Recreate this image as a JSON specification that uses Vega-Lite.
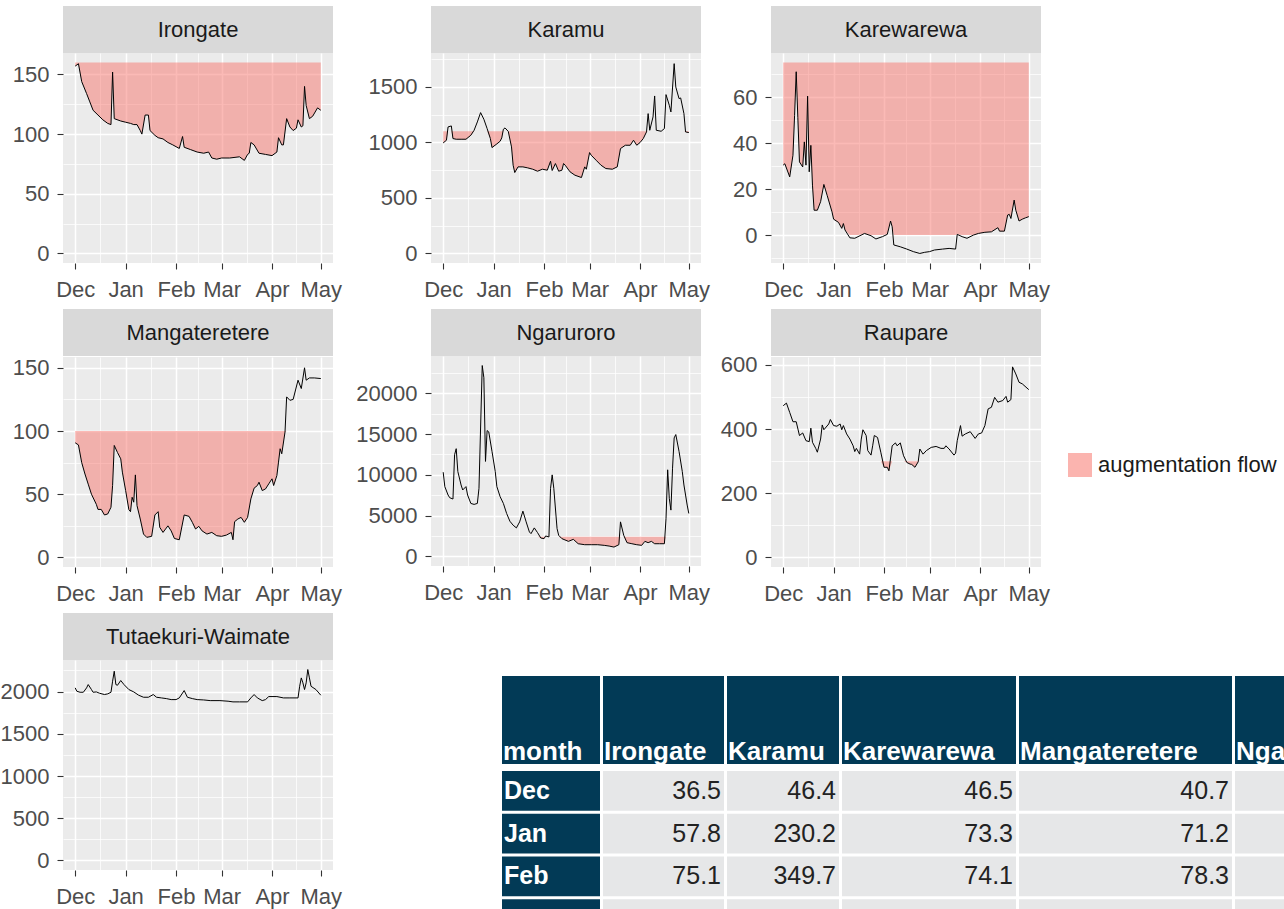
{
"$schema":"https://vega.github.io/schema/vega-lite/v6.json",
"background":"white",
"padding":{"left":0,"top":6,"right":0,"bottom":0},
"config":{
 "view":{"stroke":null,"fill":"#EBEBEB"},
 "font":"Liberation Sans",
 "text":{"font":"Liberation Sans"},
 "axis":{"domain":false,"grid":true,"gridColor":"#FFFFFF","tickColor":"#333333","tickSize":6,"tickWidth":1.1,"labelFontSize":22,"labelColor":"#4D4D4D","labelFont":"Liberation Sans","labelOverlap":false,"title":null},
 "axisX":{"labelPadding":10,"labelFlush":false},
 "axisY":{"labelPadding":8}
},
"datasets":{
 "Irongate":[{"date":"2012-12-01","flow":157},{"date":"2012-12-03","flow":159},{"date":"2012-12-05","flow":144},{"date":"2012-12-08","flow":134},{"date":"2012-12-10","flow":127},{"date":"2012-12-12","flow":120},{"date":"2012-12-15","flow":116},{"date":"2012-12-18","flow":112},{"date":"2012-12-21","flow":109},{"date":"2012-12-23","flow":108},{"date":"2012-12-24","flow":152},{"date":"2012-12-25","flow":113},{"date":"2012-12-29","flow":111},{"date":"2013-01-01","flow":110},{"date":"2013-01-04","flow":109},{"date":"2013-01-06","flow":108},{"date":"2013-01-08","flow":108},{"date":"2013-01-10","flow":103},{"date":"2013-01-11","flow":100},{"date":"2013-01-13","flow":116},{"date":"2013-01-15","flow":116},{"date":"2013-01-16","flow":103},{"date":"2013-01-19","flow":99},{"date":"2013-01-21","flow":97},{"date":"2013-01-24","flow":96},{"date":"2013-01-27","flow":93},{"date":"2013-01-30","flow":91},{"date":"2013-02-03","flow":88},{"date":"2013-02-05","flow":98},{"date":"2013-02-06","flow":89},{"date":"2013-02-10","flow":87},{"date":"2013-02-14","flow":85},{"date":"2013-02-18","flow":84},{"date":"2013-02-21","flow":85},{"date":"2013-02-23","flow":80},{"date":"2013-02-26","flow":79},{"date":"2013-03-01","flow":80},{"date":"2013-03-06","flow":80},{"date":"2013-03-12","flow":81},{"date":"2013-03-15","flow":78},{"date":"2013-03-17","flow":83},{"date":"2013-03-18","flow":84},{"date":"2013-03-19","flow":93},{"date":"2013-03-21","flow":91},{"date":"2013-03-24","flow":84},{"date":"2013-03-28","flow":83},{"date":"2013-04-01","flow":82},{"date":"2013-04-04","flow":85},{"date":"2013-04-05","flow":97},{"date":"2013-04-07","flow":91},{"date":"2013-04-08","flow":91},{"date":"2013-04-10","flow":113},{"date":"2013-04-12","flow":106},{"date":"2013-04-14","flow":103},{"date":"2013-04-16","flow":105},{"date":"2013-04-17","flow":112},{"date":"2013-04-19","flow":106},{"date":"2013-04-20","flow":107},{"date":"2013-04-21","flow":140},{"date":"2013-04-22","flow":124},{"date":"2013-04-24","flow":113},{"date":"2013-04-26","flow":115},{"date":"2013-04-29","flow":122},{"date":"2013-05-01","flow":120}],
 "Karamu":[{"date":"2012-12-01","flow":996,"low":996},{"date":"2012-12-03","flow":1020,"low":1020},{"date":"2012-12-04","flow":1140,"low":1100},{"date":"2012-12-06","flow":1149,"low":1100},{"date":"2012-12-07","flow":1035,"low":1035},{"date":"2012-12-09","flow":1029,"low":1029},{"date":"2012-12-12","flow":1029,"low":1029},{"date":"2012-12-15","flow":1029,"low":1029},{"date":"2012-12-18","flow":1065,"low":1065},{"date":"2012-12-20","flow":1110,"low":1100},{"date":"2012-12-22","flow":1185,"low":1100},{"date":"2012-12-24","flow":1269,"low":1100},{"date":"2012-12-26","flow":1209,"low":1100},{"date":"2012-12-28","flow":1125,"low":1100},{"date":"2012-12-30","flow":1035,"low":1035},{"date":"2012-12-31","flow":954,"low":954},{"date":"2013-01-03","flow":987,"low":987},{"date":"2013-01-05","flow":1011,"low":1011},{"date":"2013-01-06","flow":1041,"low":1041},{"date":"2013-01-07","flow":1119,"low":1100},{"date":"2013-01-08","flow":1131,"low":1100},{"date":"2013-01-10","flow":1100,"low":1100},{"date":"2013-01-12","flow":960,"low":960},{"date":"2013-01-13","flow":795,"low":795},{"date":"2013-01-14","flow":729,"low":729},{"date":"2013-01-16","flow":780,"low":780},{"date":"2013-01-19","flow":780,"low":780},{"date":"2013-01-22","flow":771,"low":771},{"date":"2013-01-25","flow":759,"low":759},{"date":"2013-01-28","flow":741,"low":741},{"date":"2013-01-31","flow":759,"low":759},{"date":"2013-02-03","flow":750,"low":750},{"date":"2013-02-05","flow":831,"low":831},{"date":"2013-02-06","flow":747,"low":747},{"date":"2013-02-08","flow":810,"low":810},{"date":"2013-02-10","flow":741,"low":741},{"date":"2013-02-12","flow":750,"low":750},{"date":"2013-02-13","flow":810,"low":810},{"date":"2013-02-14","flow":795,"low":795},{"date":"2013-02-17","flow":735,"low":735},{"date":"2013-02-20","flow":705,"low":705},{"date":"2013-02-24","flow":684,"low":684},{"date":"2013-02-26","flow":780,"low":780},{"date":"2013-02-27","flow":759,"low":759},{"date":"2013-03-01","flow":909,"low":909},{"date":"2013-03-02","flow":885,"low":885},{"date":"2013-03-05","flow":840,"low":840},{"date":"2013-03-08","flow":795,"low":795},{"date":"2013-03-11","flow":765,"low":765},{"date":"2013-03-15","flow":759,"low":759},{"date":"2013-03-18","flow":780,"low":780},{"date":"2013-03-20","flow":945,"low":945},{"date":"2013-03-23","flow":975,"low":975},{"date":"2013-03-26","flow":975,"low":975},{"date":"2013-03-28","flow":1020,"low":1020},{"date":"2013-03-30","flow":975,"low":975},{"date":"2013-04-01","flow":999,"low":999},{"date":"2013-04-03","flow":1035,"low":1035},{"date":"2013-04-05","flow":1095,"low":1095},{"date":"2013-04-06","flow":1260,"low":1100},{"date":"2013-04-07","flow":1110,"low":1100},{"date":"2013-04-09","flow":1230,"low":1100},{"date":"2013-04-10","flow":1419,"low":1100},{"date":"2013-04-11","flow":1110,"low":1100},{"date":"2013-04-14","flow":1101,"low":1100},{"date":"2013-04-16","flow":1125,"low":1100},{"date":"2013-04-17","flow":1431,"low":1100},{"date":"2013-04-19","flow":1335,"low":1100},{"date":"2013-04-20","flow":1275,"low":1100},{"date":"2013-04-22","flow":1710,"low":1100},{"date":"2013-04-23","flow":1500,"low":1100},{"date":"2013-04-25","flow":1395,"low":1100},{"date":"2013-04-26","flow":1401,"low":1100},{"date":"2013-04-28","flow":1260,"low":1100},{"date":"2013-04-29","flow":1095,"low":1095},{"date":"2013-05-01","flow":1089,"low":1089}],
 "Karewarewa":[{"date":"2012-12-01","flow":30.4,"low":30.4},{"date":"2012-12-02","flow":31,"low":31},{"date":"2012-12-05","flow":25.3,"low":25.3},{"date":"2012-12-07","flow":34.7,"low":34.7},{"date":"2012-12-08","flow":52,"low":52},{"date":"2012-12-09","flow":71,"low":71},{"date":"2012-12-10","flow":51,"low":51},{"date":"2012-12-11","flow":31.8,"low":31.8},{"date":"2012-12-13","flow":29.6,"low":29.6},{"date":"2012-12-14","flow":40.5,"low":40.5},{"date":"2012-12-15","flow":30.4,"low":30.4},{"date":"2012-12-16","flow":60.4,"low":60.4},{"date":"2012-12-17","flow":27.5,"low":27.5},{"date":"2012-12-18","flow":39,"low":39},{"date":"2012-12-19","flow":21.7,"low":21.7},{"date":"2012-12-20","flow":10.8,"low":10.8},{"date":"2012-12-22","flow":10.8,"low":10.8},{"date":"2012-12-24","flow":14.5,"low":14.5},{"date":"2012-12-26","flow":22,"low":22},{"date":"2012-12-28","flow":17.3,"low":17.3},{"date":"2012-12-31","flow":10.1,"low":10.1},{"date":"2013-01-01","flow":6.9,"low":6.9},{"date":"2013-01-04","flow":5.5,"low":5.5},{"date":"2013-01-06","flow":2.9,"low":2.9},{"date":"2013-01-07","flow":5,"low":5},{"date":"2013-01-08","flow":2.2,"low":2.2},{"date":"2013-01-11","flow":-1.2,"low":0},{"date":"2013-01-14","flow":-1.4,"low":0},{"date":"2013-01-16","flow":-0.7,"low":0},{"date":"2013-01-20","flow":0.7,"low":0.7},{"date":"2013-01-24","flow":-0.3,"low":0},{"date":"2013-01-27","flow":-1.7,"low":0},{"date":"2013-01-31","flow":-0.7,"low":0},{"date":"2013-02-03","flow":0.3,"low":0.3},{"date":"2013-02-05","flow":6.1,"low":6.1},{"date":"2013-02-06","flow":3.6,"low":3.6},{"date":"2013-02-07","flow":-4.3,"low":0},{"date":"2013-02-11","flow":-5.1,"low":0},{"date":"2013-02-15","flow":-6.1,"low":0},{"date":"2013-02-19","flow":-7.2,"low":0},{"date":"2013-02-23","flow":-8,"low":0},{"date":"2013-02-26","flow":-7.5,"low":0},{"date":"2013-03-01","flow":-7.2,"low":0},{"date":"2013-03-04","flow":-6.5,"low":0},{"date":"2013-03-09","flow":-6.1,"low":0},{"date":"2013-03-13","flow":-5.8,"low":0},{"date":"2013-03-17","flow":-6.1,"low":0},{"date":"2013-03-18","flow":0.3,"low":0.3},{"date":"2013-03-21","flow":-0.7,"low":0},{"date":"2013-03-24","flow":-1.4,"low":0},{"date":"2013-03-28","flow":0,"low":0},{"date":"2013-03-31","flow":0.7,"low":0.7},{"date":"2013-04-04","flow":1.2,"low":1.2},{"date":"2013-04-08","flow":1.4,"low":1.4},{"date":"2013-04-12","flow":3.2,"low":3.2},{"date":"2013-04-13","flow":1.7,"low":1.7},{"date":"2013-04-16","flow":1.7,"low":1.7},{"date":"2013-04-18","flow":8.7,"low":8.7},{"date":"2013-04-19","flow":9,"low":9},{"date":"2013-04-20","flow":7.2,"low":7.2},{"date":"2013-04-22","flow":15.2,"low":15.2},{"date":"2013-04-23","flow":10.8,"low":10.8},{"date":"2013-04-25","flow":6.1,"low":6.1},{"date":"2013-04-27","flow":6.9,"low":6.9},{"date":"2013-04-29","flow":7.5,"low":7.5},{"date":"2013-05-01","flow":8,"low":8}],
 "Mangateretere":[{"date":"2012-12-01","flow":90.7,"low":90.7},{"date":"2012-12-03","flow":89,"low":89},{"date":"2012-12-05","flow":75,"low":75},{"date":"2012-12-07","flow":66,"low":66},{"date":"2012-12-09","flow":58,"low":58},{"date":"2012-12-11","flow":50,"low":50},{"date":"2012-12-14","flow":42,"low":42},{"date":"2012-12-15","flow":38,"low":38},{"date":"2012-12-17","flow":38,"low":38},{"date":"2012-12-19","flow":33.6,"low":33.6},{"date":"2012-12-21","flow":34.4,"low":34.4},{"date":"2012-12-23","flow":39.7,"low":39.7},{"date":"2012-12-24","flow":57,"low":57},{"date":"2012-12-25","flow":88.6,"low":88.6},{"date":"2012-12-27","flow":83,"low":83},{"date":"2012-12-29","flow":78,"low":78},{"date":"2012-12-30","flow":67.5,"low":67.5},{"date":"2013-01-01","flow":53,"low":53},{"date":"2013-01-03","flow":37.8,"low":37.8},{"date":"2013-01-04","flow":36.2,"low":36.2},{"date":"2013-01-05","flow":47.6,"low":47.6},{"date":"2013-01-06","flow":43.7,"low":43.7},{"date":"2013-01-07","flow":65.3,"low":65.3},{"date":"2013-01-08","flow":41,"low":41},{"date":"2013-01-10","flow":30.4,"low":30.4},{"date":"2013-01-12","flow":18.5,"low":18.5},{"date":"2013-01-14","flow":15.9,"low":15.9},{"date":"2013-01-17","flow":16.7,"low":16.7},{"date":"2013-01-19","flow":33.6,"low":33.6},{"date":"2013-01-21","flow":36.2,"low":36.2},{"date":"2013-01-22","flow":23.8,"low":23.8},{"date":"2013-01-24","flow":19.8,"low":19.8},{"date":"2013-01-27","flow":25,"low":25},{"date":"2013-01-29","flow":21,"low":21},{"date":"2013-01-31","flow":15,"low":15},{"date":"2013-02-03","flow":14,"low":14},{"date":"2013-02-06","flow":33.6,"low":33.6},{"date":"2013-02-09","flow":32.5,"low":32.5},{"date":"2013-02-11","flow":27.8,"low":27.8},{"date":"2013-02-13","flow":22.5,"low":22.5},{"date":"2013-02-15","flow":24.6,"low":24.6},{"date":"2013-02-17","flow":21,"low":21},{"date":"2013-02-20","flow":18.5,"low":18.5},{"date":"2013-02-23","flow":19.8,"low":19.8},{"date":"2013-02-26","flow":17.2,"low":17.2},{"date":"2013-03-01","flow":16.7,"low":16.7},{"date":"2013-03-04","flow":17.7,"low":17.7},{"date":"2013-03-07","flow":19.8,"low":19.8},{"date":"2013-03-08","flow":14,"low":14},{"date":"2013-03-09","flow":28.3,"low":28.3},{"date":"2013-03-11","flow":30.4,"low":30.4},{"date":"2013-03-13","flow":31.7,"low":31.7},{"date":"2013-03-15","flow":27.8,"low":27.8},{"date":"2013-03-17","flow":31.7,"low":31.7},{"date":"2013-03-19","flow":46.3,"low":46.3},{"date":"2013-03-21","flow":54.8,"low":54.8},{"date":"2013-03-23","flow":56.9,"low":56.9},{"date":"2013-03-24","flow":59.5,"low":59.5},{"date":"2013-03-26","flow":52.9,"low":52.9},{"date":"2013-03-28","flow":54.2,"low":54.2},{"date":"2013-03-30","flow":58.2,"low":58.2},{"date":"2013-04-01","flow":62.2,"low":62.2},{"date":"2013-04-02","flow":56.9,"low":56.9},{"date":"2013-04-04","flow":64.8,"low":64.8},{"date":"2013-04-05","flow":75.4,"low":75.4},{"date":"2013-04-06","flow":86,"low":86},{"date":"2013-04-07","flow":82,"low":82},{"date":"2013-04-09","flow":99.2,"low":99.2},{"date":"2013-04-10","flow":127,"low":100},{"date":"2013-04-12","flow":124.3,"low":100},{"date":"2013-04-14","flow":125,"low":100},{"date":"2013-04-17","flow":140.2,"low":100},{"date":"2013-04-19","flow":133.6,"low":100},{"date":"2013-04-21","flow":150,"low":100},{"date":"2013-04-22","flow":140.2,"low":100},{"date":"2013-04-24","flow":142,"low":100},{"date":"2013-04-27","flow":142,"low":100},{"date":"2013-05-01","flow":141.5,"low":100}],
 "Ngaruroro":[{"date":"2012-12-01","flow":10330,"low":2400},{"date":"2012-12-02","flow":8560,"low":2400},{"date":"2012-12-04","flow":7530,"low":2400},{"date":"2012-12-05","flow":7200,"low":2400},{"date":"2012-12-07","flow":7040,"low":2400},{"date":"2012-12-08","flow":12470,"low":2400},{"date":"2012-12-09","flow":13210,"low":2400},{"date":"2012-12-10","flow":10410,"low":2400},{"date":"2012-12-12","flow":8760,"low":2400},{"date":"2012-12-13","flow":8150,"low":2400},{"date":"2012-12-15","flow":8560,"low":2400},{"date":"2012-12-16","flow":7530,"low":2400},{"date":"2012-12-18","flow":6500,"low":2400},{"date":"2012-12-20","flow":6380,"low":2400},{"date":"2012-12-22","flow":6500,"low":2400},{"date":"2012-12-23","flow":8350,"low":2400},{"date":"2012-12-25","flow":23400,"low":2400},{"date":"2012-12-26","flow":21900,"low":2400},{"date":"2012-12-27","flow":11650,"low":2400},{"date":"2012-12-28","flow":15430,"low":2400},{"date":"2012-12-29","flow":15270,"low":2400},{"date":"2012-12-31","flow":12880,"low":2400},{"date":"2013-01-02","flow":10410,"low":2400},{"date":"2013-01-03","flow":8560,"low":2400},{"date":"2013-01-05","flow":7325,"low":2400},{"date":"2013-01-07","flow":6500,"low":2400},{"date":"2013-01-09","flow":5270,"low":2400},{"date":"2013-01-11","flow":4320,"low":2400},{"date":"2013-01-13","flow":3830,"low":2400},{"date":"2013-01-15","flow":3500,"low":2400},{"date":"2013-01-17","flow":4240,"low":2400},{"date":"2013-01-19","flow":5555,"low":2400},{"date":"2013-01-21","flow":4240,"low":2400},{"date":"2013-01-23","flow":3000,"low":2400},{"date":"2013-01-24","flow":2800,"low":2400},{"date":"2013-01-26","flow":3500,"low":2400},{"date":"2013-01-28","flow":2920,"low":2400},{"date":"2013-01-30","flow":2260,"low":2260},{"date":"2013-02-01","flow":2180,"low":2180},{"date":"2013-02-02","flow":2510,"low":2400},{"date":"2013-02-04","flow":2390,"low":2390},{"date":"2013-02-05","flow":8350,"low":2400},{"date":"2013-02-06","flow":10000,"low":2400},{"date":"2013-02-07","flow":8350,"low":2400},{"date":"2013-02-09","flow":3420,"low":2400},{"date":"2013-02-10","flow":2590,"low":2400},{"date":"2013-02-12","flow":2180,"low":2180},{"date":"2013-02-16","flow":1850,"low":1850},{"date":"2013-02-19","flow":2100,"low":2100},{"date":"2013-02-22","flow":1560,"low":1560},{"date":"2013-02-26","flow":1440,"low":1440},{"date":"2013-03-02","flow":1440,"low":1440},{"date":"2013-03-06","flow":1440,"low":1440},{"date":"2013-03-10","flow":1360,"low":1360},{"date":"2013-03-13","flow":1275,"low":1275},{"date":"2013-03-16","flow":1150,"low":1150},{"date":"2013-03-19","flow":1440,"low":1440},{"date":"2013-03-20","flow":4240,"low":2400},{"date":"2013-03-22","flow":2590,"low":2400},{"date":"2013-03-24","flow":1690,"low":1690},{"date":"2013-03-27","flow":1560,"low":1560},{"date":"2013-03-30","flow":1440,"low":1440},{"date":"2013-04-02","flow":1360,"low":1360},{"date":"2013-04-04","flow":1850,"low":1850},{"date":"2013-04-06","flow":1690,"low":1690},{"date":"2013-04-08","flow":1850,"low":1850},{"date":"2013-04-10","flow":1560,"low":1560},{"date":"2013-04-13","flow":1560,"low":1560},{"date":"2013-04-16","flow":1560,"low":1560},{"date":"2013-04-17","flow":4650,"low":2400},{"date":"2013-04-18","flow":10620,"low":2400},{"date":"2013-04-19","flow":7120,"low":2400},{"date":"2013-04-20","flow":5680,"low":2400},{"date":"2013-04-21","flow":10820,"low":2400},{"date":"2013-04-22","flow":14530,"low":2400},{"date":"2013-04-23","flow":14940,"low":2400},{"date":"2013-04-25","flow":12880,"low":2400},{"date":"2013-04-27","flow":10410,"low":2400},{"date":"2013-04-28","flow":8760,"low":2400},{"date":"2013-04-30","flow":6300,"low":2400},{"date":"2013-05-01","flow":5270,"low":2400}],
 "Raupare":[{"date":"2012-12-01","flow":473,"low":300},{"date":"2012-12-03","flow":481,"low":300},{"date":"2012-12-05","flow":452,"low":300},{"date":"2012-12-07","flow":423,"low":300},{"date":"2012-12-09","flow":423,"low":300},{"date":"2012-12-11","flow":380,"low":300},{"date":"2012-12-13","flow":388,"low":300},{"date":"2012-12-15","flow":364,"low":300},{"date":"2012-12-17","flow":361,"low":300},{"date":"2012-12-18","flow":403,"low":300},{"date":"2012-12-19","flow":359,"low":300},{"date":"2012-12-21","flow":340,"low":300},{"date":"2012-12-22","flow":328,"low":300},{"date":"2012-12-24","flow":369,"low":300},{"date":"2012-12-25","flow":413,"low":300},{"date":"2012-12-26","flow":398,"low":300},{"date":"2012-12-29","flow":416,"low":300},{"date":"2012-12-30","flow":430,"low":300},{"date":"2013-01-01","flow":411,"low":300},{"date":"2013-01-03","flow":409,"low":300},{"date":"2013-01-05","flow":416,"low":300},{"date":"2013-01-06","flow":398,"low":300},{"date":"2013-01-07","flow":411,"low":300},{"date":"2013-01-09","flow":385,"low":300},{"date":"2013-01-11","flow":369,"low":300},{"date":"2013-01-13","flow":348,"low":300},{"date":"2013-01-14","flow":330,"low":300},{"date":"2013-01-15","flow":340,"low":300},{"date":"2013-01-17","flow":322,"low":300},{"date":"2013-01-18","flow":369,"low":300},{"date":"2013-01-19","flow":398,"low":300},{"date":"2013-01-21","flow":380,"low":300},{"date":"2013-01-22","flow":333,"low":300},{"date":"2013-01-24","flow":319,"low":300},{"date":"2013-01-25","flow":348,"low":300},{"date":"2013-01-26","flow":380,"low":300},{"date":"2013-01-28","flow":374,"low":300},{"date":"2013-01-30","flow":328,"low":300},{"date":"2013-02-01","flow":281,"low":281},{"date":"2013-02-03","flow":281,"low":281},{"date":"2013-02-04","flow":270,"low":270},{"date":"2013-02-06","flow":348,"low":300},{"date":"2013-02-08","flow":357,"low":300},{"date":"2013-02-09","flow":348,"low":300},{"date":"2013-02-11","flow":357,"low":300},{"date":"2013-02-13","flow":317,"low":300},{"date":"2013-02-15","flow":296,"low":296},{"date":"2013-02-17","flow":291,"low":291},{"date":"2013-02-18","flow":290,"low":290},{"date":"2013-02-20","flow":281,"low":281},{"date":"2013-02-22","flow":298,"low":298},{"date":"2013-02-23","flow":338,"low":300},{"date":"2013-02-25","flow":322,"low":300},{"date":"2013-02-27","flow":333,"low":300},{"date":"2013-03-02","flow":343,"low":300},{"date":"2013-03-05","flow":346,"low":300},{"date":"2013-03-08","flow":340,"low":300},{"date":"2013-03-10","flow":340,"low":300},{"date":"2013-03-11","flow":348,"low":300},{"date":"2013-03-13","flow":338,"low":300},{"date":"2013-03-16","flow":319,"low":300},{"date":"2013-03-17","flow":325,"low":300},{"date":"2013-03-18","flow":364,"low":300},{"date":"2013-03-20","flow":411,"low":300},{"date":"2013-03-21","flow":378,"low":300},{"date":"2013-03-23","flow":385,"low":300},{"date":"2013-03-26","flow":392,"low":300},{"date":"2013-03-29","flow":371,"low":300},{"date":"2013-03-31","flow":385,"low":300},{"date":"2013-04-02","flow":388,"low":300},{"date":"2013-04-04","flow":411,"low":300},{"date":"2013-04-06","flow":463,"low":300},{"date":"2013-04-08","flow":468,"low":300},{"date":"2013-04-10","flow":499,"low":300},{"date":"2013-04-12","flow":484,"low":300},{"date":"2013-04-15","flow":489,"low":300},{"date":"2013-04-17","flow":502,"low":300},{"date":"2013-04-18","flow":484,"low":300},{"date":"2013-04-20","flow":492,"low":300},{"date":"2013-04-21","flow":594,"low":300},{"date":"2013-04-23","flow":572,"low":300},{"date":"2013-04-25","flow":546,"low":300},{"date":"2013-04-27","flow":541,"low":300},{"date":"2013-05-01","flow":523,"low":300}],
 "Tutaekuri":[{"date":"2012-12-01","flow":2044},{"date":"2012-12-02","flow":2004},{"date":"2012-12-04","flow":1992},{"date":"2012-12-06","flow":1992},{"date":"2012-12-08","flow":2044},{"date":"2012-12-09","flow":2083},{"date":"2012-12-11","flow":2024},{"date":"2012-12-12","flow":1992},{"date":"2012-12-14","flow":1996},{"date":"2012-12-16","flow":1980},{"date":"2012-12-19","flow":1965},{"date":"2012-12-21","flow":1973},{"date":"2012-12-23","flow":1992},{"date":"2012-12-24","flow":2123},{"date":"2012-12-25","flow":2241},{"date":"2012-12-26","flow":2083},{"date":"2012-12-27","flow":2075},{"date":"2012-12-29","flow":2131},{"date":"2012-12-31","flow":2083},{"date":"2013-01-03","flow":2024},{"date":"2013-01-06","flow":1996},{"date":"2013-01-09","flow":1957},{"date":"2013-01-12","flow":1933},{"date":"2013-01-15","flow":1933},{"date":"2013-01-18","flow":1965},{"date":"2013-01-20","flow":1933},{"date":"2013-01-23","flow":1925},{"date":"2013-01-26","flow":1917},{"date":"2013-01-29","flow":1905},{"date":"2013-02-01","flow":1905},{"date":"2013-02-03","flow":1925},{"date":"2013-02-06","flow":2012},{"date":"2013-02-08","flow":1933},{"date":"2013-02-11","flow":1917},{"date":"2013-02-14","flow":1905},{"date":"2013-02-18","flow":1901},{"date":"2013-02-22","flow":1893},{"date":"2013-02-28","flow":1893},{"date":"2013-03-05","flow":1886},{"date":"2013-03-08","flow":1878},{"date":"2013-03-12","flow":1878},{"date":"2013-03-17","flow":1878},{"date":"2013-03-19","flow":1925},{"date":"2013-03-21","flow":1965},{"date":"2013-03-23","flow":1925},{"date":"2013-03-26","flow":1893},{"date":"2013-03-28","flow":1905},{"date":"2013-03-30","flow":1941},{"date":"2013-04-04","flow":1941},{"date":"2013-04-08","flow":1925},{"date":"2013-04-12","flow":1925},{"date":"2013-04-17","flow":1925},{"date":"2013-04-18","flow":2063},{"date":"2013-04-19","flow":2162},{"date":"2013-04-20","flow":2103},{"date":"2013-04-21","flow":2024},{"date":"2013-04-22","flow":2103},{"date":"2013-04-23","flow":2261},{"date":"2013-04-24","flow":2162},{"date":"2013-04-25","flow":2063},{"date":"2013-04-28","flow":2024},{"date":"2013-05-01","flow":1957}],
 "table":[{"month":"Dec","Irongate":36.5,"Karamu":46.4,"Karewarewa":46.5,"Mangateretere":40.7},{"month":"Jan","Irongate":57.8,"Karamu":230.2,"Karewarewa":73.3,"Mangateretere":71.2},{"month":"Feb","Irongate":75.1,"Karamu":349.7,"Karewarewa":74.1,"Mangateretere":78.3},{"month":"Mar"}]
},
"spacing":9,
"resolve":{"scale":{"color":"independent"},"legend":{"color":"independent"}},
"vconcat":[
{"hconcat":[
 {"vconcat":[
  {"width":270,"height":47,"view":{"fill":"#D9D9D9","stroke":null},"data":{"values":[{"site":"Irongate"}]},"mark":{"type":"text","fontSize":22,"color":"#1A1A1A","baseline":"middle"},"encoding":{"text":{"field":"site"},"y":{"datum":0.5,"type":"quantitative","scale":{"domain":[0,1]},"axis":{"labels":false,"ticks":false,"domain":false,"grid":false,"minExtent":63}}}},
  {"width":270,"height":210,"data":{"name":"Irongate"},"layer":[
   {"mark":{"type":"area","color":"#F8766D","opacity":0.5},"encoding":{"x":{"field":"date","type":"temporal","title":null,"scale":{"type":"utc","domain":[{"year":2012,"month":11,"date":23,"hours":12,"utc":true},{"year":2013,"month":5,"date":8,"hours":12,"utc":true}]},"axis":{"values":[{"year":2012,"month":12,"date":1,"utc":true},{"year":2012,"month":12,"date":16,"hours":12,"utc":true},{"year":2013,"month":1,"date":1,"utc":true},{"year":2013,"month":1,"date":16,"hours":12,"utc":true},{"year":2013,"month":2,"date":1,"utc":true},{"year":2013,"month":2,"date":14,"hours":12,"utc":true},{"year":2013,"month":3,"date":1,"utc":true},{"year":2013,"month":3,"date":16,"hours":12,"utc":true},{"year":2013,"month":4,"date":1,"utc":true},{"year":2013,"month":4,"date":16,"utc":true},{"year":2013,"month":5,"date":1,"utc":true}],"labelExpr":"utcdate(datum.value) == 1 ? utcFormat(datum.value, '%b') : ''","gridWidth":{"condition":{"test":"utcdate(datum.value) == 1","value":1.5},"value":0.75},"tickOpacity":{"condition":{"test":"utcdate(datum.value) == 1","value":1},"value":0}}},"y":{"field":"flow","type":"quantitative","title":null,"scale":{"domain":[-8,168],"nice":false,"zero":false},"axis":{"values":[0,25,50,75,100,125,150],"format":"d","labelExpr":"datum.value % 50 == 0 ? datum.label : ''","labelFontSize":{"condition":{"test":"datum.value % 50 == 0","value":22},"value":0},"gridWidth":{"condition":{"test":"datum.value % 50 == 0","value":1.5},"value":0.75},"tickOpacity":{"condition":{"test":"datum.value % 50 == 0","value":1},"value":0},"minExtent":63}},"y2":{"datum":160}}},
   {"mark":{"type":"line","color":"black","strokeWidth":1},"encoding":{"x":{"field":"date","type":"temporal","title":null,"scale":{"type":"utc","domain":[{"year":2012,"month":11,"date":23,"hours":12,"utc":true},{"year":2013,"month":5,"date":8,"hours":12,"utc":true}]},"axis":{"values":[{"year":2012,"month":12,"date":1,"utc":true},{"year":2012,"month":12,"date":16,"hours":12,"utc":true},{"year":2013,"month":1,"date":1,"utc":true},{"year":2013,"month":1,"date":16,"hours":12,"utc":true},{"year":2013,"month":2,"date":1,"utc":true},{"year":2013,"month":2,"date":14,"hours":12,"utc":true},{"year":2013,"month":3,"date":1,"utc":true},{"year":2013,"month":3,"date":16,"hours":12,"utc":true},{"year":2013,"month":4,"date":1,"utc":true},{"year":2013,"month":4,"date":16,"utc":true},{"year":2013,"month":5,"date":1,"utc":true}],"labelExpr":"utcdate(datum.value) == 1 ? utcFormat(datum.value, '%b') : ''","gridWidth":{"condition":{"test":"utcdate(datum.value) == 1","value":1.5},"value":0.75},"tickOpacity":{"condition":{"test":"utcdate(datum.value) == 1","value":1},"value":0}}},"y":{"field":"flow","type":"quantitative","title":null,"scale":{"domain":[-8,168],"nice":false,"zero":false},"axis":{"values":[0,25,50,75,100,125,150],"format":"d","labelExpr":"datum.value % 50 == 0 ? datum.label : ''","labelFontSize":{"condition":{"test":"datum.value % 50 == 0","value":22},"value":0},"gridWidth":{"condition":{"test":"datum.value % 50 == 0","value":1.5},"value":0.75},"tickOpacity":{"condition":{"test":"datum.value % 50 == 0","value":1},"value":0},"minExtent":63}}}}
  ]}
 ],"spacing":0},
 {"vconcat":[
  {"width":270,"height":47,"view":{"fill":"#D9D9D9","stroke":null},"data":{"values":[{"site":"Karamu"}]},"mark":{"type":"text","fontSize":22,"color":"#1A1A1A","baseline":"middle"},"encoding":{"text":{"field":"site"},"y":{"datum":0.5,"type":"quantitative","scale":{"domain":[0,1]},"axis":{"labels":false,"ticks":false,"domain":false,"grid":false,"minExtent":66.4}}}},
  {"width":270,"height":210,"data":{"name":"Karamu"},"layer":[
   {"mark":{"type":"area","color":"#F8766D","opacity":0.5},"encoding":{"x":{"field":"date","type":"temporal","title":null,"scale":{"type":"utc","domain":[{"year":2012,"month":11,"date":23,"hours":12,"utc":true},{"year":2013,"month":5,"date":8,"hours":12,"utc":true}]},"axis":{"values":[{"year":2012,"month":12,"date":1,"utc":true},{"year":2012,"month":12,"date":16,"hours":12,"utc":true},{"year":2013,"month":1,"date":1,"utc":true},{"year":2013,"month":1,"date":16,"hours":12,"utc":true},{"year":2013,"month":2,"date":1,"utc":true},{"year":2013,"month":2,"date":14,"hours":12,"utc":true},{"year":2013,"month":3,"date":1,"utc":true},{"year":2013,"month":3,"date":16,"hours":12,"utc":true},{"year":2013,"month":4,"date":1,"utc":true},{"year":2013,"month":4,"date":16,"utc":true},{"year":2013,"month":5,"date":1,"utc":true}],"labelExpr":"utcdate(datum.value) == 1 ? utcFormat(datum.value, '%b') : ''","gridWidth":{"condition":{"test":"utcdate(datum.value) == 1","value":1.5},"value":0.75},"tickOpacity":{"condition":{"test":"utcdate(datum.value) == 1","value":1},"value":0}}},"y":{"field":"low","type":"quantitative","title":null,"scale":{"domain":[-86,1806],"nice":false,"zero":false},"axis":{"values":[0,250,500,750,1000,1250,1500,1750],"format":"d","labelExpr":"datum.value % 500 == 0 ? datum.label : ''","labelFontSize":{"condition":{"test":"datum.value % 500 == 0","value":22},"value":0},"gridWidth":{"condition":{"test":"datum.value % 500 == 0","value":1.5},"value":0.75},"tickOpacity":{"condition":{"test":"datum.value % 500 == 0","value":1},"value":0},"minExtent":66.4}},"y2":{"datum":1100}}},
   {"mark":{"type":"line","color":"black","strokeWidth":1},"encoding":{"x":{"field":"date","type":"temporal","title":null,"scale":{"type":"utc","domain":[{"year":2012,"month":11,"date":23,"hours":12,"utc":true},{"year":2013,"month":5,"date":8,"hours":12,"utc":true}]},"axis":{"values":[{"year":2012,"month":12,"date":1,"utc":true},{"year":2012,"month":12,"date":16,"hours":12,"utc":true},{"year":2013,"month":1,"date":1,"utc":true},{"year":2013,"month":1,"date":16,"hours":12,"utc":true},{"year":2013,"month":2,"date":1,"utc":true},{"year":2013,"month":2,"date":14,"hours":12,"utc":true},{"year":2013,"month":3,"date":1,"utc":true},{"year":2013,"month":3,"date":16,"hours":12,"utc":true},{"year":2013,"month":4,"date":1,"utc":true},{"year":2013,"month":4,"date":16,"utc":true},{"year":2013,"month":5,"date":1,"utc":true}],"labelExpr":"utcdate(datum.value) == 1 ? utcFormat(datum.value, '%b') : ''","gridWidth":{"condition":{"test":"utcdate(datum.value) == 1","value":1.5},"value":0.75},"tickOpacity":{"condition":{"test":"utcdate(datum.value) == 1","value":1},"value":0}}},"y":{"field":"flow","type":"quantitative","title":null,"scale":{"domain":[-86,1806],"nice":false,"zero":false},"axis":{"values":[0,250,500,750,1000,1250,1500,1750],"format":"d","labelExpr":"datum.value % 500 == 0 ? datum.label : ''","labelFontSize":{"condition":{"test":"datum.value % 500 == 0","value":22},"value":0},"gridWidth":{"condition":{"test":"datum.value % 500 == 0","value":1.5},"value":0.75},"tickOpacity":{"condition":{"test":"datum.value % 500 == 0","value":1},"value":0},"minExtent":66.4}}}}
  ]}
 ],"spacing":0},
 {"vconcat":[
  {"width":270,"height":47,"view":{"fill":"#D9D9D9","stroke":null},"data":{"values":[{"site":"Karewarewa"}]},"mark":{"type":"text","fontSize":22,"color":"#1A1A1A","baseline":"middle"},"encoding":{"text":{"field":"site"},"y":{"datum":0.5,"type":"quantitative","scale":{"domain":[0,1]},"axis":{"labels":false,"ticks":false,"domain":false,"grid":false,"minExtent":38.4}}}},
  {"width":270,"height":210,"data":{"name":"Karewarewa"},"layer":[
   {"mark":{"type":"area","color":"#F8766D","opacity":0.5},"encoding":{"x":{"field":"date","type":"temporal","title":null,"scale":{"type":"utc","domain":[{"year":2012,"month":11,"date":23,"hours":12,"utc":true},{"year":2013,"month":5,"date":8,"hours":12,"utc":true}]},"axis":{"values":[{"year":2012,"month":12,"date":1,"utc":true},{"year":2012,"month":12,"date":16,"hours":12,"utc":true},{"year":2013,"month":1,"date":1,"utc":true},{"year":2013,"month":1,"date":16,"hours":12,"utc":true},{"year":2013,"month":2,"date":1,"utc":true},{"year":2013,"month":2,"date":14,"hours":12,"utc":true},{"year":2013,"month":3,"date":1,"utc":true},{"year":2013,"month":3,"date":16,"hours":12,"utc":true},{"year":2013,"month":4,"date":1,"utc":true},{"year":2013,"month":4,"date":16,"utc":true},{"year":2013,"month":5,"date":1,"utc":true}],"labelExpr":"utcdate(datum.value) == 1 ? utcFormat(datum.value, '%b') : ''","gridWidth":{"condition":{"test":"utcdate(datum.value) == 1","value":1.5},"value":0.75},"tickOpacity":{"condition":{"test":"utcdate(datum.value) == 1","value":1},"value":0}}},"y":{"field":"low","type":"quantitative","title":null,"scale":{"domain":[-12.15,79.15],"nice":false,"zero":false},"axis":{"values":[-10,0,10,20,30,40,50,60,70],"format":"d","labelExpr":"datum.value % 20 == 0 ? datum.label : ''","labelFontSize":{"condition":{"test":"datum.value % 20 == 0","value":22},"value":0},"gridWidth":{"condition":{"test":"datum.value % 20 == 0","value":1.5},"value":0.75},"tickOpacity":{"condition":{"test":"datum.value % 20 == 0","value":1},"value":0},"minExtent":38.4}},"y2":{"datum":75}}},
   {"mark":{"type":"line","color":"black","strokeWidth":1},"encoding":{"x":{"field":"date","type":"temporal","title":null,"scale":{"type":"utc","domain":[{"year":2012,"month":11,"date":23,"hours":12,"utc":true},{"year":2013,"month":5,"date":8,"hours":12,"utc":true}]},"axis":{"values":[{"year":2012,"month":12,"date":1,"utc":true},{"year":2012,"month":12,"date":16,"hours":12,"utc":true},{"year":2013,"month":1,"date":1,"utc":true},{"year":2013,"month":1,"date":16,"hours":12,"utc":true},{"year":2013,"month":2,"date":1,"utc":true},{"year":2013,"month":2,"date":14,"hours":12,"utc":true},{"year":2013,"month":3,"date":1,"utc":true},{"year":2013,"month":3,"date":16,"hours":12,"utc":true},{"year":2013,"month":4,"date":1,"utc":true},{"year":2013,"month":4,"date":16,"utc":true},{"year":2013,"month":5,"date":1,"utc":true}],"labelExpr":"utcdate(datum.value) == 1 ? utcFormat(datum.value, '%b') : ''","gridWidth":{"condition":{"test":"utcdate(datum.value) == 1","value":1.5},"value":0.75},"tickOpacity":{"condition":{"test":"utcdate(datum.value) == 1","value":1},"value":0}}},"y":{"field":"flow","type":"quantitative","title":null,"scale":{"domain":[-12.15,79.15],"nice":false,"zero":false},"axis":{"values":[-10,0,10,20,30,40,50,60,70],"format":"d","labelExpr":"datum.value % 20 == 0 ? datum.label : ''","labelFontSize":{"condition":{"test":"datum.value % 20 == 0","value":22},"value":0},"gridWidth":{"condition":{"test":"datum.value % 20 == 0","value":1.5},"value":0.75},"tickOpacity":{"condition":{"test":"datum.value % 20 == 0","value":1},"value":0},"minExtent":38.4}}}}
  ]}
 ],"spacing":0}
],"spacing":22},
{"hconcat":[
 {"vconcat":[
  {"width":270,"height":47,"view":{"fill":"#D9D9D9","stroke":null},"data":{"values":[{"site":"Mangateretere"}]},"mark":{"type":"text","fontSize":22,"color":"#1A1A1A","baseline":"middle"},"encoding":{"text":{"field":"site"},"y":{"datum":0.5,"type":"quantitative","scale":{"domain":[0,1]},"axis":{"labels":false,"ticks":false,"domain":false,"grid":false,"minExtent":63}}}},
  {"width":270,"height":210,"data":{"name":"Mangateretere"},"layer":[
   {"mark":{"type":"area","color":"#F8766D","opacity":0.5},"encoding":{"x":{"field":"date","type":"temporal","title":null,"scale":{"type":"utc","domain":[{"year":2012,"month":11,"date":23,"hours":12,"utc":true},{"year":2013,"month":5,"date":8,"hours":12,"utc":true}]},"axis":{"values":[{"year":2012,"month":12,"date":1,"utc":true},{"year":2012,"month":12,"date":16,"hours":12,"utc":true},{"year":2013,"month":1,"date":1,"utc":true},{"year":2013,"month":1,"date":16,"hours":12,"utc":true},{"year":2013,"month":2,"date":1,"utc":true},{"year":2013,"month":2,"date":14,"hours":12,"utc":true},{"year":2013,"month":3,"date":1,"utc":true},{"year":2013,"month":3,"date":16,"hours":12,"utc":true},{"year":2013,"month":4,"date":1,"utc":true},{"year":2013,"month":4,"date":16,"utc":true},{"year":2013,"month":5,"date":1,"utc":true}],"labelExpr":"utcdate(datum.value) == 1 ? utcFormat(datum.value, '%b') : ''","gridWidth":{"condition":{"test":"utcdate(datum.value) == 1","value":1.5},"value":0.75},"tickOpacity":{"condition":{"test":"utcdate(datum.value) == 1","value":1},"value":0}}},"y":{"field":"low","type":"quantitative","title":null,"scale":{"domain":[-7.55,158.55],"nice":false,"zero":false},"axis":{"values":[0,25,50,75,100,125,150],"format":"d","labelExpr":"datum.value % 50 == 0 ? datum.label : ''","labelFontSize":{"condition":{"test":"datum.value % 50 == 0","value":22},"value":0},"gridWidth":{"condition":{"test":"datum.value % 50 == 0","value":1.5},"value":0.75},"tickOpacity":{"condition":{"test":"datum.value % 50 == 0","value":1},"value":0},"minExtent":63}},"y2":{"datum":100}}},
   {"mark":{"type":"line","color":"black","strokeWidth":1},"encoding":{"x":{"field":"date","type":"temporal","title":null,"scale":{"type":"utc","domain":[{"year":2012,"month":11,"date":23,"hours":12,"utc":true},{"year":2013,"month":5,"date":8,"hours":12,"utc":true}]},"axis":{"values":[{"year":2012,"month":12,"date":1,"utc":true},{"year":2012,"month":12,"date":16,"hours":12,"utc":true},{"year":2013,"month":1,"date":1,"utc":true},{"year":2013,"month":1,"date":16,"hours":12,"utc":true},{"year":2013,"month":2,"date":1,"utc":true},{"year":2013,"month":2,"date":14,"hours":12,"utc":true},{"year":2013,"month":3,"date":1,"utc":true},{"year":2013,"month":3,"date":16,"hours":12,"utc":true},{"year":2013,"month":4,"date":1,"utc":true},{"year":2013,"month":4,"date":16,"utc":true},{"year":2013,"month":5,"date":1,"utc":true}],"labelExpr":"utcdate(datum.value) == 1 ? utcFormat(datum.value, '%b') : ''","gridWidth":{"condition":{"test":"utcdate(datum.value) == 1","value":1.5},"value":0.75},"tickOpacity":{"condition":{"test":"utcdate(datum.value) == 1","value":1},"value":0}}},"y":{"field":"flow","type":"quantitative","title":null,"scale":{"domain":[-7.55,158.55],"nice":false,"zero":false},"axis":{"values":[0,25,50,75,100,125,150],"format":"d","labelExpr":"datum.value % 50 == 0 ? datum.label : ''","labelFontSize":{"condition":{"test":"datum.value % 50 == 0","value":22},"value":0},"gridWidth":{"condition":{"test":"datum.value % 50 == 0","value":1.5},"value":0.75},"tickOpacity":{"condition":{"test":"datum.value % 50 == 0","value":1},"value":0},"minExtent":63}}}}
  ]}
 ],"spacing":0},
 {"vconcat":[
  {"width":270,"height":47,"view":{"fill":"#D9D9D9","stroke":null},"data":{"values":[{"site":"Ngaruroro"}]},"mark":{"type":"text","fontSize":22,"color":"#1A1A1A","baseline":"middle"},"encoding":{"text":{"field":"site"},"y":{"datum":0.5,"type":"quantitative","scale":{"domain":[0,1]},"axis":{"labels":false,"ticks":false,"domain":false,"grid":false,"minExtent":79.4}}}},
  {"width":270,"height":210,"data":{"name":"Ngaruroro"},"layer":[
   {"mark":{"type":"area","color":"#F8766D","opacity":0.5},"encoding":{"x":{"field":"date","type":"temporal","title":null,"scale":{"type":"utc","domain":[{"year":2012,"month":11,"date":23,"hours":12,"utc":true},{"year":2013,"month":5,"date":8,"hours":12,"utc":true}]},"axis":{"values":[{"year":2012,"month":12,"date":1,"utc":true},{"year":2012,"month":12,"date":16,"hours":12,"utc":true},{"year":2013,"month":1,"date":1,"utc":true},{"year":2013,"month":1,"date":16,"hours":12,"utc":true},{"year":2013,"month":2,"date":1,"utc":true},{"year":2013,"month":2,"date":14,"hours":12,"utc":true},{"year":2013,"month":3,"date":1,"utc":true},{"year":2013,"month":3,"date":16,"hours":12,"utc":true},{"year":2013,"month":4,"date":1,"utc":true},{"year":2013,"month":4,"date":16,"utc":true},{"year":2013,"month":5,"date":1,"utc":true}],"labelExpr":"utcdate(datum.value) == 1 ? utcFormat(datum.value, '%b') : ''","gridWidth":{"condition":{"test":"utcdate(datum.value) == 1","value":1.5},"value":0.75},"tickOpacity":{"condition":{"test":"utcdate(datum.value) == 1","value":1},"value":0}}},"y":{"field":"low","type":"quantitative","title":null,"scale":{"domain":[-1170,24570],"nice":false,"zero":false},"axis":{"values":[0,2500,5000,7500,10000,12500,15000,17500,20000,22500],"format":"d","labelExpr":"datum.value % 5000 == 0 ? datum.label : ''","labelFontSize":{"condition":{"test":"datum.value % 5000 == 0","value":22},"value":0},"gridWidth":{"condition":{"test":"datum.value % 5000 == 0","value":1.5},"value":0.75},"tickOpacity":{"condition":{"test":"datum.value % 5000 == 0","value":1},"value":0},"minExtent":79.4}},"y2":{"datum":2400}}},
   {"mark":{"type":"line","color":"black","strokeWidth":1},"encoding":{"x":{"field":"date","type":"temporal","title":null,"scale":{"type":"utc","domain":[{"year":2012,"month":11,"date":23,"hours":12,"utc":true},{"year":2013,"month":5,"date":8,"hours":12,"utc":true}]},"axis":{"values":[{"year":2012,"month":12,"date":1,"utc":true},{"year":2012,"month":12,"date":16,"hours":12,"utc":true},{"year":2013,"month":1,"date":1,"utc":true},{"year":2013,"month":1,"date":16,"hours":12,"utc":true},{"year":2013,"month":2,"date":1,"utc":true},{"year":2013,"month":2,"date":14,"hours":12,"utc":true},{"year":2013,"month":3,"date":1,"utc":true},{"year":2013,"month":3,"date":16,"hours":12,"utc":true},{"year":2013,"month":4,"date":1,"utc":true},{"year":2013,"month":4,"date":16,"utc":true},{"year":2013,"month":5,"date":1,"utc":true}],"labelExpr":"utcdate(datum.value) == 1 ? utcFormat(datum.value, '%b') : ''","gridWidth":{"condition":{"test":"utcdate(datum.value) == 1","value":1.5},"value":0.75},"tickOpacity":{"condition":{"test":"utcdate(datum.value) == 1","value":1},"value":0}}},"y":{"field":"flow","type":"quantitative","title":null,"scale":{"domain":[-1170,24570],"nice":false,"zero":false},"axis":{"values":[0,2500,5000,7500,10000,12500,15000,17500,20000,22500],"format":"d","labelExpr":"datum.value % 5000 == 0 ? datum.label : ''","labelFontSize":{"condition":{"test":"datum.value % 5000 == 0","value":22},"value":0},"gridWidth":{"condition":{"test":"datum.value % 5000 == 0","value":1.5},"value":0.75},"tickOpacity":{"condition":{"test":"datum.value % 5000 == 0","value":1},"value":0},"minExtent":79.4}}}}
  ]}
 ],"spacing":0},
 {"vconcat":[
  {"width":270,"height":47,"view":{"fill":"#D9D9D9","stroke":null},"data":{"values":[{"site":"Raupare"}]},"mark":{"type":"text","fontSize":22,"color":"#1A1A1A","baseline":"middle"},"encoding":{"text":{"field":"site"},"y":{"datum":0.5,"type":"quantitative","scale":{"domain":[0,1]},"axis":{"labels":false,"ticks":false,"domain":false,"grid":false,"minExtent":51.4}}}},
  {"width":270,"height":210,"data":{"name":"Raupare"},"layer":[
   {"mark":{"type":"area","opacity":0.5},"encoding":{"x":{"field":"date","type":"temporal","title":null,"scale":{"type":"utc","domain":[{"year":2012,"month":11,"date":23,"hours":12,"utc":true},{"year":2013,"month":5,"date":8,"hours":12,"utc":true}]},"axis":{"values":[{"year":2012,"month":12,"date":1,"utc":true},{"year":2012,"month":12,"date":16,"hours":12,"utc":true},{"year":2013,"month":1,"date":1,"utc":true},{"year":2013,"month":1,"date":16,"hours":12,"utc":true},{"year":2013,"month":2,"date":1,"utc":true},{"year":2013,"month":2,"date":14,"hours":12,"utc":true},{"year":2013,"month":3,"date":1,"utc":true},{"year":2013,"month":3,"date":16,"hours":12,"utc":true},{"year":2013,"month":4,"date":1,"utc":true},{"year":2013,"month":4,"date":16,"utc":true},{"year":2013,"month":5,"date":1,"utc":true}],"labelExpr":"utcdate(datum.value) == 1 ? utcFormat(datum.value, '%b') : ''","gridWidth":{"condition":{"test":"utcdate(datum.value) == 1","value":1.5},"value":0.75},"tickOpacity":{"condition":{"test":"utcdate(datum.value) == 1","value":1},"value":0}}},"y":{"field":"low","type":"quantitative","title":null,"scale":{"domain":[-29.75,624.75],"nice":false,"zero":false},"axis":{"values":[0,100,200,300,400,500,600],"format":"d","labelExpr":"datum.value % 200 == 0 ? datum.label : ''","labelFontSize":{"condition":{"test":"datum.value % 200 == 0","value":22},"value":0},"gridWidth":{"condition":{"test":"datum.value % 200 == 0","value":1.5},"value":0.75},"tickOpacity":{"condition":{"test":"datum.value % 200 == 0","value":1},"value":0},"minExtent":51.4}},"y2":{"datum":300},"color":{"datum":"augmentation flow","type":"nominal","scale":{"range":["#F8766D"]},"legend":{"orient":"none","legendX":297,"legendY":96,"title":null,"symbolType":"square","symbolSize":576,"symbolOpacity":0.55,"symbolStrokeWidth":0,"labelFontSize":22,"labelColor":"#1A1A1A","labelFont":"Liberation Sans","labelOffset":6,"labelLimit":400}}}},
   {"mark":{"type":"line","color":"black","strokeWidth":1},"encoding":{"x":{"field":"date","type":"temporal","title":null,"scale":{"type":"utc","domain":[{"year":2012,"month":11,"date":23,"hours":12,"utc":true},{"year":2013,"month":5,"date":8,"hours":12,"utc":true}]},"axis":{"values":[{"year":2012,"month":12,"date":1,"utc":true},{"year":2012,"month":12,"date":16,"hours":12,"utc":true},{"year":2013,"month":1,"date":1,"utc":true},{"year":2013,"month":1,"date":16,"hours":12,"utc":true},{"year":2013,"month":2,"date":1,"utc":true},{"year":2013,"month":2,"date":14,"hours":12,"utc":true},{"year":2013,"month":3,"date":1,"utc":true},{"year":2013,"month":3,"date":16,"hours":12,"utc":true},{"year":2013,"month":4,"date":1,"utc":true},{"year":2013,"month":4,"date":16,"utc":true},{"year":2013,"month":5,"date":1,"utc":true}],"labelExpr":"utcdate(datum.value) == 1 ? utcFormat(datum.value, '%b') : ''","gridWidth":{"condition":{"test":"utcdate(datum.value) == 1","value":1.5},"value":0.75},"tickOpacity":{"condition":{"test":"utcdate(datum.value) == 1","value":1},"value":0}}},"y":{"field":"flow","type":"quantitative","title":null,"scale":{"domain":[-29.75,624.75],"nice":false,"zero":false},"axis":{"values":[0,100,200,300,400,500,600],"format":"d","labelExpr":"datum.value % 200 == 0 ? datum.label : ''","labelFontSize":{"condition":{"test":"datum.value % 200 == 0","value":22},"value":0},"gridWidth":{"condition":{"test":"datum.value % 200 == 0","value":1.5},"value":0.75},"tickOpacity":{"condition":{"test":"datum.value % 200 == 0","value":1},"value":0},"minExtent":51.4}}}}
  ]}
 ],"spacing":-3,"resolve":{"scale":{"color":"independent"},"legend":{"color":"independent"}}}
],"spacing":9,"resolve":{"scale":{"color":"independent"},"legend":{"color":"independent"}}},
{"hconcat":[
 {"vconcat":[
  {"width":270,"height":47,"view":{"fill":"#D9D9D9","stroke":null},"data":{"values":[{"site":"Tutaekuri-Waimate"}]},"mark":{"type":"text","fontSize":22,"color":"#1A1A1A","baseline":"middle"},"encoding":{"text":{"field":"site"},"y":{"datum":0.5,"type":"quantitative","scale":{"domain":[0,1]},"axis":{"labels":false,"ticks":false,"domain":false,"grid":false,"minExtent":63}}}},
  {"width":270,"height":210,"data":{"name":"Tutaekuri"},"mark":{"type":"line","color":"black","strokeWidth":1},"encoding":{"x":{"field":"date","type":"temporal","title":null,"scale":{"type":"utc","domain":[{"year":2012,"month":11,"date":23,"hours":12,"utc":true},{"year":2013,"month":5,"date":8,"hours":12,"utc":true}]},"axis":{"values":[{"year":2012,"month":12,"date":1,"utc":true},{"year":2012,"month":12,"date":16,"hours":12,"utc":true},{"year":2013,"month":1,"date":1,"utc":true},{"year":2013,"month":1,"date":16,"hours":12,"utc":true},{"year":2013,"month":2,"date":1,"utc":true},{"year":2013,"month":2,"date":14,"hours":12,"utc":true},{"year":2013,"month":3,"date":1,"utc":true},{"year":2013,"month":3,"date":16,"hours":12,"utc":true},{"year":2013,"month":4,"date":1,"utc":true},{"year":2013,"month":4,"date":16,"utc":true},{"year":2013,"month":5,"date":1,"utc":true}],"labelExpr":"utcdate(datum.value) == 1 ? utcFormat(datum.value, '%b') : ''","gridWidth":{"condition":{"test":"utcdate(datum.value) == 1","value":1.5},"value":0.75},"tickOpacity":{"condition":{"test":"utcdate(datum.value) == 1","value":1},"value":0}}},"y":{"field":"flow","type":"quantitative","title":null,"scale":{"domain":[-113.05,2374.05],"nice":false,"zero":false},"axis":{"values":[0,250,500,750,1000,1250,1500,1750,2000,2250],"format":"d","labelExpr":"datum.value % 500 == 0 ? datum.label : ''","labelFontSize":{"condition":{"test":"datum.value % 500 == 0","value":22},"value":0},"gridWidth":{"condition":{"test":"datum.value % 500 == 0","value":1.5},"value":0.75},"tickOpacity":{"condition":{"test":"datum.value % 500 == 0","value":1},"value":0},"minExtent":63}}}}
 ],"spacing":0},
 {"vconcat":[
  {"width":98,"height":58,"view":{"fill":"white","stroke":null},"data":{"values":[{}]},"mark":{"type":"text","text":""}},
  {"width":98,"height":88,"view":{"fill":"#023A56","stroke":null},"data":{"values":[{"h":"month"}]},"mark":{"type":"text","align":"left","baseline":"alphabetic","dx":1,"color":"white","fontSize":26,"fontWeight":"bold"},"encoding":{"text":{"field":"h"},"x":{"datum":0,"type":"quantitative","scale":{"domain":[0,1]},"axis":null},"y":{"datum":0.04,"type":"quantitative","scale":{"domain":[0,1]},"axis":{"labels":false,"ticks":false,"domain":false,"grid":false,"minExtent":156.4}}}},
  {"width":98,"height":168,"view":{"fill":"white","stroke":null},"data":{"name":"table"},"layer":[
   {"mark":{"type":"rect","color":"#023A56"},"encoding":{"y":{"field":"month","type":"nominal","sort":null,"scale":{"domain":["Dec","Jan","Feb","Mar"],"paddingInner":0.07,"paddingOuter":0},"axis":{"labels":false,"ticks":false,"domain":false,"grid":false,"minExtent":156.4}},"x":{"datum":0,"type":"quantitative","scale":{"domain":[0,1]},"axis":null},"x2":{"datum":1}}},
   {"transform":[{"filter":"isValid(datum.Irongate)"}],"mark":{"type":"text","align":"left","baseline":"middle","dx":2,"color":"white","fontSize":25,"fontWeight":"bold"},"encoding":{"y":{"field":"month","type":"nominal","sort":null,"axis":{"labels":false,"ticks":false,"domain":false,"grid":false,"minExtent":156.4}},"x":{"datum":0,"type":"quantitative","axis":null},"text":{"field":"month"}}}
  ]}
 ],"spacing":5},
 {"vconcat":[
  {"width":121,"height":58,"view":{"fill":"white","stroke":null},"data":{"values":[{}]},"mark":{"type":"text","text":""}},
  {"width":121,"height":88,"view":{"fill":"#023A56","stroke":null},"data":{"values":[{"h":"Irongate"}]},"mark":{"type":"text","align":"left","baseline":"alphabetic","dx":1,"color":"white","fontSize":26,"fontWeight":"bold"},"encoding":{"text":{"field":"h"},"x":{"datum":0,"type":"quantitative","scale":{"domain":[0,1]},"axis":null},"y":{"datum":0.04,"type":"quantitative","scale":{"domain":[0,1]},"axis":null}}},
  {"width":121,"height":168,"view":{"fill":"white","stroke":null},"data":{"name":"table"},"layer":[
   {"mark":{"type":"rect","color":"#E6E7E8"},"encoding":{"y":{"field":"month","type":"nominal","sort":null,"scale":{"domain":["Dec","Jan","Feb","Mar"],"paddingInner":0.07,"paddingOuter":0},"axis":null},"x":{"datum":0,"type":"quantitative","scale":{"domain":[0,1]},"axis":null},"x2":{"datum":1}}},
   {"transform":[{"filter":"isValid(datum.Irongate)"}],"mark":{"type":"text","align":"right","baseline":"middle","dx":-3,"color":"#222222","fontSize":25},"encoding":{"y":{"field":"month","type":"nominal","sort":null,"axis":null},"x":{"datum":1,"type":"quantitative","axis":null},"text":{"field":"Irongate","type":"quantitative","format":".1f"}}}
  ]}
 ],"spacing":5},
 {"vconcat":[
  {"width":112,"height":58,"view":{"fill":"white","stroke":null},"data":{"values":[{}]},"mark":{"type":"text","text":""}},
  {"width":112,"height":88,"view":{"fill":"#023A56","stroke":null},"data":{"values":[{"h":"Karamu"}]},"mark":{"type":"text","align":"left","baseline":"alphabetic","dx":1,"color":"white","fontSize":26,"fontWeight":"bold"},"encoding":{"text":{"field":"h"},"x":{"datum":0,"type":"quantitative","scale":{"domain":[0,1]},"axis":null},"y":{"datum":0.04,"type":"quantitative","scale":{"domain":[0,1]},"axis":null}}},
  {"width":112,"height":168,"view":{"fill":"white","stroke":null},"data":{"name":"table"},"layer":[
   {"mark":{"type":"rect","color":"#E6E7E8"},"encoding":{"y":{"field":"month","type":"nominal","sort":null,"scale":{"domain":["Dec","Jan","Feb","Mar"],"paddingInner":0.07,"paddingOuter":0},"axis":null},"x":{"datum":0,"type":"quantitative","scale":{"domain":[0,1]},"axis":null},"x2":{"datum":1}}},
   {"transform":[{"filter":"isValid(datum.Karamu)"}],"mark":{"type":"text","align":"right","baseline":"middle","dx":-3,"color":"#222222","fontSize":25},"encoding":{"y":{"field":"month","type":"nominal","sort":null,"axis":null},"x":{"datum":1,"type":"quantitative","axis":null},"text":{"field":"Karamu","type":"quantitative","format":".1f"}}}
  ]}
 ],"spacing":5},
 {"vconcat":[
  {"width":174,"height":58,"view":{"fill":"white","stroke":null},"data":{"values":[{}]},"mark":{"type":"text","text":""}},
  {"width":174,"height":88,"view":{"fill":"#023A56","stroke":null},"data":{"values":[{"h":"Karewarewa"}]},"mark":{"type":"text","align":"left","baseline":"alphabetic","dx":1,"color":"white","fontSize":26,"fontWeight":"bold"},"encoding":{"text":{"field":"h"},"x":{"datum":0,"type":"quantitative","scale":{"domain":[0,1]},"axis":null},"y":{"datum":0.04,"type":"quantitative","scale":{"domain":[0,1]},"axis":null}}},
  {"width":174,"height":168,"view":{"fill":"white","stroke":null},"data":{"name":"table"},"layer":[
   {"mark":{"type":"rect","color":"#E6E7E8"},"encoding":{"y":{"field":"month","type":"nominal","sort":null,"scale":{"domain":["Dec","Jan","Feb","Mar"],"paddingInner":0.07,"paddingOuter":0},"axis":null},"x":{"datum":0,"type":"quantitative","scale":{"domain":[0,1]},"axis":null},"x2":{"datum":1}}},
   {"transform":[{"filter":"isValid(datum.Karewarewa)"}],"mark":{"type":"text","align":"right","baseline":"middle","dx":-3,"color":"#222222","fontSize":25},"encoding":{"y":{"field":"month","type":"nominal","sort":null,"axis":null},"x":{"datum":1,"type":"quantitative","axis":null},"text":{"field":"Karewarewa","type":"quantitative","format":".1f"}}}
  ]}
 ],"spacing":5},
 {"vconcat":[
  {"width":213,"height":58,"view":{"fill":"white","stroke":null},"data":{"values":[{}]},"mark":{"type":"text","text":""}},
  {"width":213,"height":88,"view":{"fill":"#023A56","stroke":null},"data":{"values":[{"h":"Mangateretere"}]},"mark":{"type":"text","align":"left","baseline":"alphabetic","dx":1,"color":"white","fontSize":26,"fontWeight":"bold"},"encoding":{"text":{"field":"h"},"x":{"datum":0,"type":"quantitative","scale":{"domain":[0,1]},"axis":null},"y":{"datum":0.04,"type":"quantitative","scale":{"domain":[0,1]},"axis":null}}},
  {"width":213,"height":168,"view":{"fill":"white","stroke":null},"data":{"name":"table"},"layer":[
   {"mark":{"type":"rect","color":"#E6E7E8"},"encoding":{"y":{"field":"month","type":"nominal","sort":null,"scale":{"domain":["Dec","Jan","Feb","Mar"],"paddingInner":0.07,"paddingOuter":0},"axis":null},"x":{"datum":0,"type":"quantitative","scale":{"domain":[0,1]},"axis":null},"x2":{"datum":1}}},
   {"transform":[{"filter":"isValid(datum.Mangateretere)"}],"mark":{"type":"text","align":"right","baseline":"middle","dx":-3,"color":"#222222","fontSize":25},"encoding":{"y":{"field":"month","type":"nominal","sort":null,"axis":null},"x":{"datum":1,"type":"quantitative","axis":null},"text":{"field":"Mangateretere","type":"quantitative","format":".1f"}}}
  ]}
 ],"spacing":5},
 {"vconcat":[
  {"width":60,"height":58,"view":{"fill":"white","stroke":null},"data":{"values":[{}]},"mark":{"type":"text","text":""}},
  {"width":60,"height":88,"view":{"fill":"#023A56","stroke":null},"data":{"values":[{"h":"Ngaruroro"}]},"mark":{"type":"text","align":"left","baseline":"alphabetic","dx":1,"color":"white","fontSize":26,"fontWeight":"bold"},"encoding":{"text":{"field":"h"},"x":{"datum":0,"type":"quantitative","scale":{"domain":[0,1]},"axis":null},"y":{"datum":0.04,"type":"quantitative","scale":{"domain":[0,1]},"axis":null}}},
  {"width":60,"height":168,"view":{"fill":"white","stroke":null},"data":{"name":"table"},"mark":{"type":"rect","color":"#E6E7E8"},"encoding":{"y":{"field":"month","type":"nominal","sort":null,"scale":{"domain":["Dec","Jan","Feb","Mar"],"paddingInner":0.07,"paddingOuter":0},"axis":null},"x":{"datum":0,"type":"quantitative","scale":{"domain":[0,1]},"axis":null},"x2":{"datum":1}}}
 ],"spacing":5}
],"spacing":3}
]
}
